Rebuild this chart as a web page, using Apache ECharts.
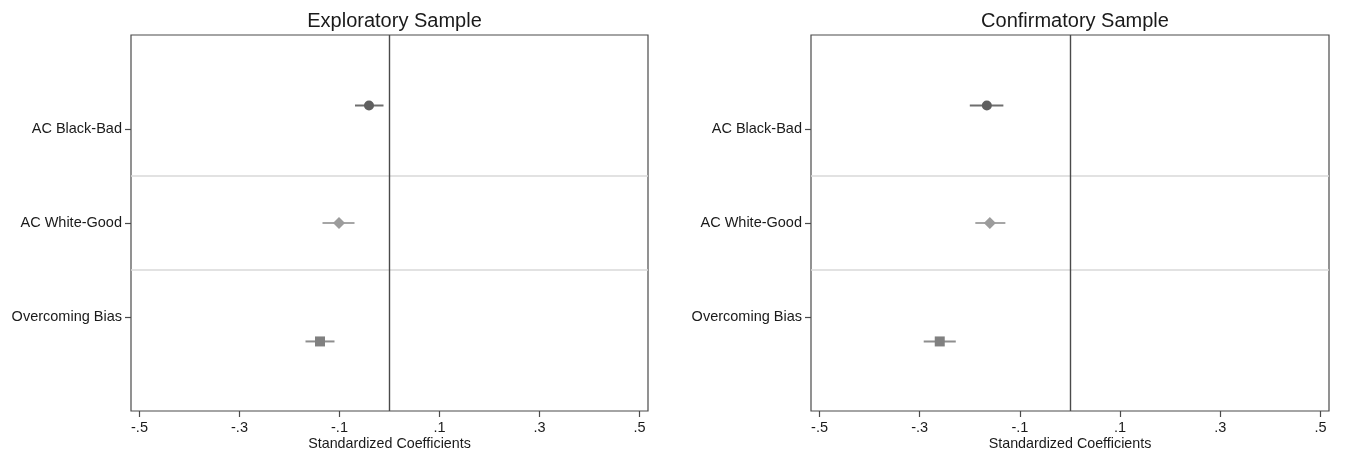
<!DOCTYPE html>
<html>
<head>
<meta charset="utf-8">
<script src="https://cdn.jsdelivr.net/npm/echarts@6/dist/echarts.min.js"></script>
<style>html,body{margin:0;padding:0;background:#fff}#c{width:1349px;height:453px}</style>
</head>
<body>
<div id="c"></div>
<script>
const categories = ['AC Black-Bad', 'AC White-Good', 'Overcoming Bias'];
const rowOffsets = [-0.25, 0, 0.26];
const xTicks = [-0.5, -0.3, -0.1, 0.1, 0.3, 0.5];
const panelTitles = ['Exploratory Sample', 'Confirmatory Sample'];
const axisTitle = 'Standardized Coefficients';
const exploratoryCoef = [-0.041, -0.101, -0.139];
const exploratoryLow = [-0.069, -0.134, -0.168];
const exploratoryHigh = [-0.012, -0.070, -0.110];
const confirmatoryCoef = [-0.166, -0.160, -0.260];
const confirmatoryLow = [-0.200, -0.189, -0.292];
const confirmatoryHigh = [-0.133, -0.129, -0.228];

const panels = [
  {coef: exploratoryCoef, low: exploratoryLow, high: exploratoryHigh},
  {coef: confirmatoryCoef, low: confirmatoryLow, high: confirmatoryHigh}
];
const gridLefts = [131, 811];
const gridWidths = [517, 518];
const rowSymbols = ['circle', 'diamond', 'rect'];
const rowSizes = [10, 12, 10];
const rowColors = ['#5f5f5f', '#9c9c9c', '#808080'];
const ciColors = ['#6e6e6e', '#a6a6a6', '#8e8e8e'];
const FONT = '"Liberation Sans", Arial, sans-serif';

const grid = [], xAxis = [], yAxis = [], title = [], series = [];
panels.forEach((p, i) => {
  grid.push({left: gridLefts[i], top: 35, width: gridWidths[i], height: 376,
    outerBoundsMode: 'none', containLabel: false,
    show: true, borderColor: '#4a4a4a', borderWidth: 1.2, backgroundColor: '#fff'});
  title.push({text: panelTitles[i], left: gridLefts[i] + gridWidths[i] / 2, top: 6,
    textAlign: 'center',
    textStyle: {fontFamily: FONT, fontSize: 20, fontWeight: 'normal', color: '#1a1a1a'}});
  xAxis.push({type: 'value', gridIndex: i, min: -0.517, max: 0.517, position: 'bottom',
    name: axisTitle, nameLocation: 'middle', nameGap: 26, nameMoveOverlap: false,
    nameTextStyle: {fontFamily: FONT, fontSize: 14.3, color: '#1a1a1a'},
    axisLine: {show: false, onZero: false},
    axisTick: {show: true, customValues: xTicks, length: 6, lineStyle: {color: '#4a4a4a', width: 1.2}},
    axisLabel: {customValues: xTicks, margin: 9, fontFamily: FONT, fontSize: 14.5, color: '#1a1a1a',
      formatter: v => (v < 0 ? '-' : '') + String(Math.abs(v)).replace(/^0/, '')},
    splitLine: {show: false}});
  yAxis.push({type: 'value', gridIndex: i, min: 0, max: 4, inverse: true, position: 'left',
    axisLine: {show: false, onZero: false},
    axisTick: {show: true, customValues: [1, 2, 3], length: 6, lineStyle: {color: '#4a4a4a', width: 1.2}},
    axisLabel: {customValues: [1, 2, 3], margin: 9, fontFamily: FONT, fontSize: 14.5, color: '#1a1a1a',
      formatter: v => categories[Math.round(v) - 1] || ''},
    splitLine: {show: false}});

  // row separators and zero reference line
  series.push({type: 'line', xAxisIndex: i, yAxisIndex: i, data: [], silent: true,
    markLine: {symbol: 'none', silent: true, label: {show: false},
      lineStyle: {color: '#d9d9d9', width: 1.5, type: 'solid'},
      data: [{yAxis: 1.5}, {yAxis: 2.5}]}});
  series.push({type: 'line', xAxisIndex: i, yAxisIndex: i, data: [], silent: true,
    markLine: {symbol: 'none', silent: true, label: {show: false},
      lineStyle: {color: '#4a4a4a', width: 1.4, type: 'solid'},
      data: [{xAxis: 0}]}});

  categories.forEach((c, r) => {
    const y = r + 1 + rowOffsets[r];
    series.push({type: 'custom', xAxisIndex: i, yAxisIndex: i, silent: true,
      data: [[p.low[r], p.high[r], y]],
      renderItem: (params, api) => {
        const a = api.coord([api.value(0), api.value(2)]);
        const b = api.coord([api.value(1), api.value(2)]);
        return {type: 'line', shape: {x1: a[0], y1: a[1], x2: b[0], y2: b[1]},
          style: {stroke: ciColors[r], lineWidth: 2}};
      }});
    series.push({type: 'scatter', xAxisIndex: i, yAxisIndex: i, silent: true,
      symbol: rowSymbols[r], symbolSize: rowSizes[r],
      itemStyle: {color: rowColors[r], opacity: 1},
      data: [[p.coef[r], y]]});
  });
});

const chart = echarts.init(document.getElementById('c'), null, {renderer: 'canvas'});
chart.setOption({animation: false, backgroundColor: '#fff', title, grid, xAxis, yAxis, series});
</script>
</body>
</html>
